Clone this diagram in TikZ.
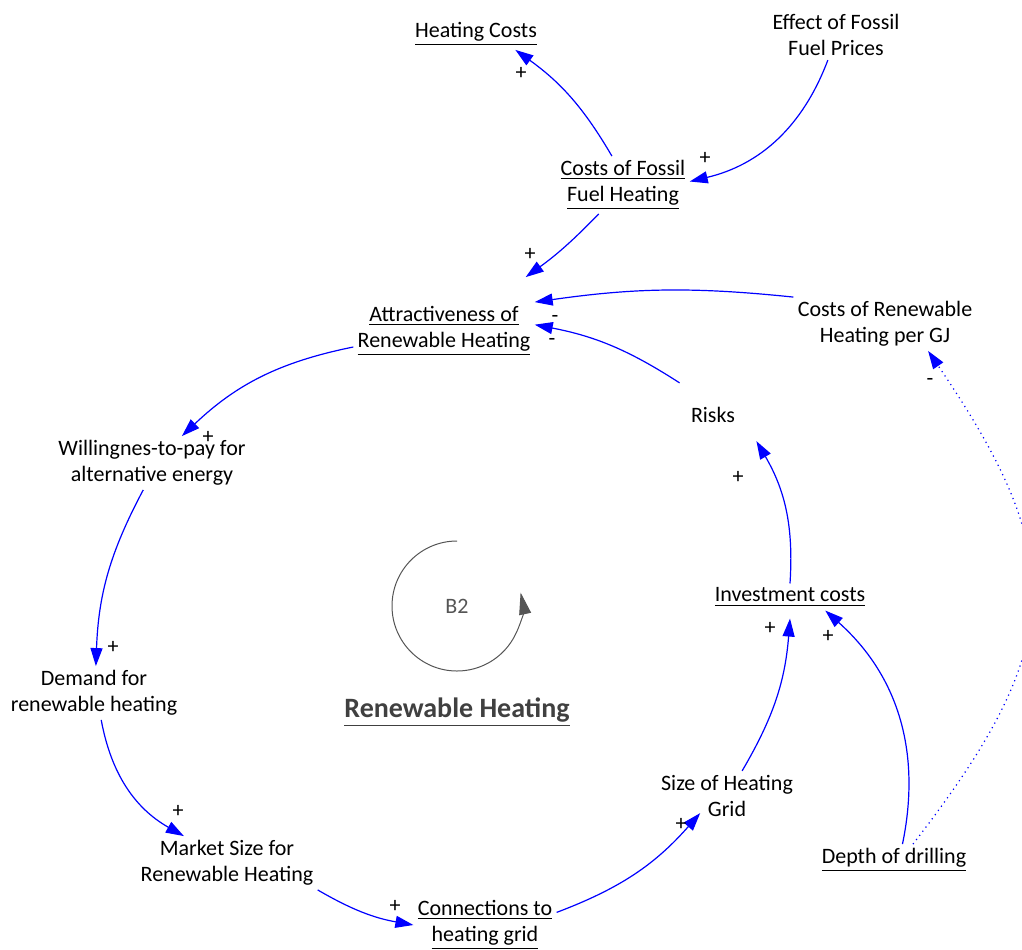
\documentclass[tikz,border=0pt]{standalone}
\usepackage{fontspec}
\setmainfont{Carlito}
\usetikzlibrary{arrows.meta}
\definecolor{loopgray}{RGB}{85,85,85}
\definecolor{titlegray}{RGB}{64,64,64}
\begin{document}
\begin{tikzpicture}[x=0.5pt, y=-0.5pt,
    var/.style={align=center, inner sep=2pt, font=\fontsize{11}{13}\selectfont},
    link/.style={blue, line width=0.6pt, -{Triangle[length=9pt,width=6pt]}},
    sign/.style={inner sep=0pt, font=\fontsize{11}{13}\selectfont}]
    \useasboundingbox (0,0) rectangle (1022,949);
    %Variables
    \node[var] (HeatCost) at (476,34) {\underline{Heating Costs}};
    \node[var] (Effect) at (836,35) {Effect of Fossil\\Fuel Prices};
    \node[var] (CostsFossil) at (623,185) {\underline{Costs of Fossil}\\\underline{Fuel Heating}};
    \node[var] (Attract) at (444,331) {\underline{Attractiveness of}\\\underline{Renewable Heating}};
    \node[var] (CostsRenew) at (885,324) {Costs of Renewable\\Heating per GJ};
    \node[var] (Risks) at (713,415) {Risks};
    \node[var] (Willing) at (152,463) {Willingnes-to-pay for\\alternative energy};
    \node[var] (Invest) at (790,597) {\underline{Investment costs}};
    \node[var] (Demand) at (94,693) {Demand for\\renewable heating};
    \node[var] (Size) at (727,796) {Size of Heating\\Grid};
    \node[var] (Market) at (227,863) {Market Size for\\Renewable Heating};
    \node[var] (Depth) at (894,860) {\underline{Depth of drilling}};
    \node[var] (Connections) at (485,925) {\underline{Connections to}\\\underline{heating grid}};
    %Links
    \draw[link] (CostsFossil.111) to[bend right=12] (HeatCost.338);
    \draw[link] (Effect.252) to[bend left=28] (CostsFossil.3);
    \draw[link] (CostsFossil.230) to[bend left=5] ([shift={(-4.5pt,12.5pt)}]Attract.north east);
    \draw[link] (CostsRenew.north west) to[bend right=7] (Attract.north east);
    \draw[link] ([shift={(-3.5pt,10pt)}]Risks.north west) to[bend right=11] (Attract.4);
    \draw[link] (Attract.190) to[bend right=16] (Willing.42);
    \draw[link] (Willing.252) to[bend right=13] (Demand.86);
    \draw[link] (Demand.285) to[bend right=25] (Market.148);
    \draw[link] (Market.south east) to[bend right=10] (Connections.west);
    \draw[link] (Connections.10) to[bend right=14] ([shift={(4.5pt,4pt)}]Size.215);
    \draw[link] (Size.59) to[bend right=13] ([yshift=-4pt]Invest.south);
    \draw[link] (Depth.62) to[bend right=30] (Invest.339);
    \draw[link, dotted] (Depth.40) to[bend right=36, looseness=1.3] (CostsRenew.328);
    \draw[link] (Invest.north) to[bend right=17] ([shift={(8.5pt,-7pt)}]Risks.south east);
    %Polarities
    \foreach \x/\y/\s [count=\i] in {521/73/+, 705/158/+, 530/254/+, 555/319/-, 552/342/-,
        208/437/+, 113/647/+, 178/811/+, 395/906/+, 681/824/+, 770/628/+, 828/636/+,
        930/382/-, 738/477/+}
      \node[sign] (pol\i) at (\x,\y) {\s};
    %Loop symbol
    \draw[loopgray, line width=0.5pt, -{Triangle[length=11pt,width=6pt]}]
      (457,541) arc[start angle=90, end angle=372, radius=32.5pt];
    \node[var, text=loopgray] (LoopId) at (457,606) {B2};
    \node[inner sep=2pt, text=titlegray, font=\fontsize{14}{17}\selectfont\bfseries]
      (LoopName) at (457,712) {\underline{Renewable Heating}};
\end{tikzpicture}
\end{document}
